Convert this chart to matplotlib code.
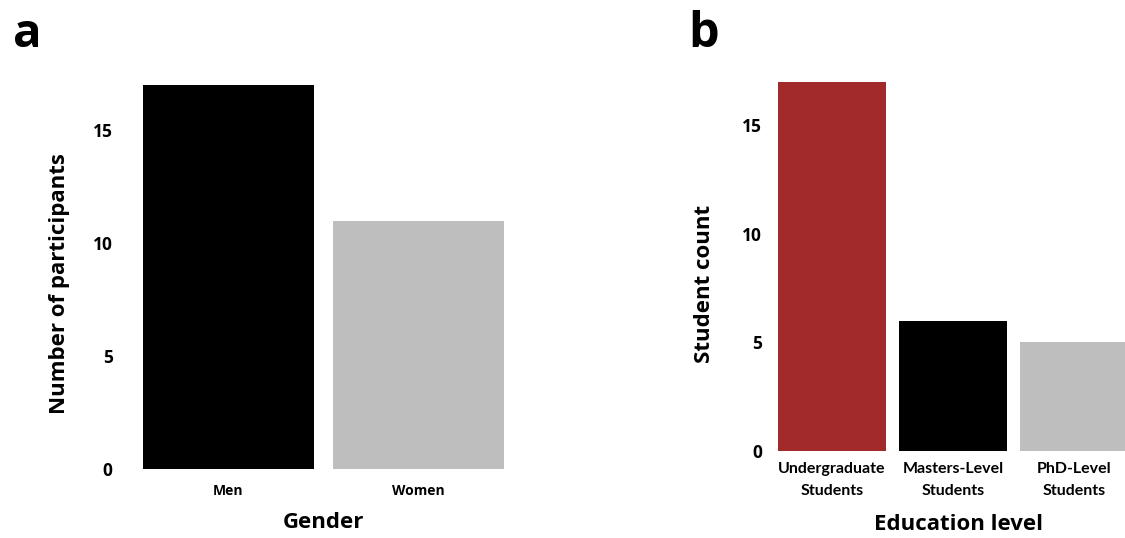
import matplotlib
matplotlib.use("Agg")
import matplotlib.pyplot as plt

# Data
gender_cats = ["Men", "Women"]
gender_counts = [17, 11]
gender_colors = ["#000000", "#BEBEBE"]

edu_cats = ["Undergraduate\nStudents", "Masters-Level\nStudents", "PhD-Level\nStudents"]
edu_counts = [17, 6, 5]
edu_colors = ["#A32A2A", "#000000", "#BEBEBE"]

yticks = [0, 5, 10, 15]

W, H = 1125, 538
fig = plt.figure(figsize=(W/100, H/100), dpi=100)

FONT = "Open Sans"


def fx(px):
    return px / W


def fy(py):
    return 1 - py / H


# Panel a
axa = fig.add_axes([fx(114), fy(469), 418/W, (469-66)/H])
axa.bar(range(len(gender_cats)), gender_counts, width=0.9, color=gender_colors)
axa.set_xlim(-0.6, 1.6)
axa.set_ylim(0, 17.85)
axa.set_xticks(range(len(gender_cats)))
axa.set_xticklabels(gender_cats, fontfamily=FONT, fontweight="bold", fontsize=10)
axa.set_yticks(yticks)
axa.set_yticklabels([str(t) for t in yticks], fontfamily=FONT, fontweight="bold", fontsize=12.5)
axa.tick_params(axis="both", length=0)
axa.tick_params(axis="y", pad=1)
axa.tick_params(axis="x", pad=11)
for s in axa.spines.values():
    s.set_visible(False)
axa.set_ylabel("Number of participants", fontfamily=FONT, fontweight="bold", fontsize=16)
axa.yaxis.label.set_va("center")
axa.yaxis.set_label_coords((60-114)/418, (469-284)/(469-66))
axa.set_xlabel("Gender", fontfamily=FONT, fontweight="bold", fontsize=16)
axa.xaxis.label.set_va("center")
axa.xaxis.set_label_coords(0.5, -(522-469)/(469-66))
fig.text(fx(13), fy(47), "a", fontfamily=FONT, fontweight="bold", fontsize=34, va="baseline", ha="left")

# Panel b
bl, bb, bt = 759.4, 451, 63.6
axb = fig.add_axes([fx(bl), fy(bb), (W-bl)/W, (bb-bt)/H])
axb.bar(range(len(edu_cats)), edu_counts, width=0.9, color=edu_colors)
axb.set_xlim(-0.6, (W-bl)/121 - 0.6)
axb.set_ylim(0, 17.85)
axb.set_xticks(range(len(edu_cats)))
axb.set_xticklabels(edu_cats, fontfamily="Lato", fontweight="bold", fontsize=11.5, linespacing=1.75)
axb.set_yticks(yticks)
axb.set_yticklabels([str(t) for t in yticks], fontfamily=FONT, fontweight="bold", fontsize=12.5)
axb.tick_params(axis="both", length=0)
axb.tick_params(axis="y", pad=-2)
axb.tick_params(axis="x", pad=8)
for s in axb.spines.values():
    s.set_visible(False)
axb.set_ylabel("Student count", fontfamily=FONT, fontweight="bold", fontsize=16)
axb.yaxis.label.set_va("center")
axb.yaxis.set_label_coords((705-bl)/(W-bl), (bb-284)/(bb-bt))
axb.set_xlabel("Education level", fontfamily=FONT, fontweight="bold", fontsize=16)
axb.xaxis.label.set_va("center")
axb.xaxis.set_label_coords((958-bl)/(W-bl), -(524-bb)/(bb-bt))
fig.text(fx(688), fy(47), "b", fontfamily=FONT, fontweight="bold", fontsize=35, va="baseline", ha="left")

fig.savefig("out.png", dpi=100)
